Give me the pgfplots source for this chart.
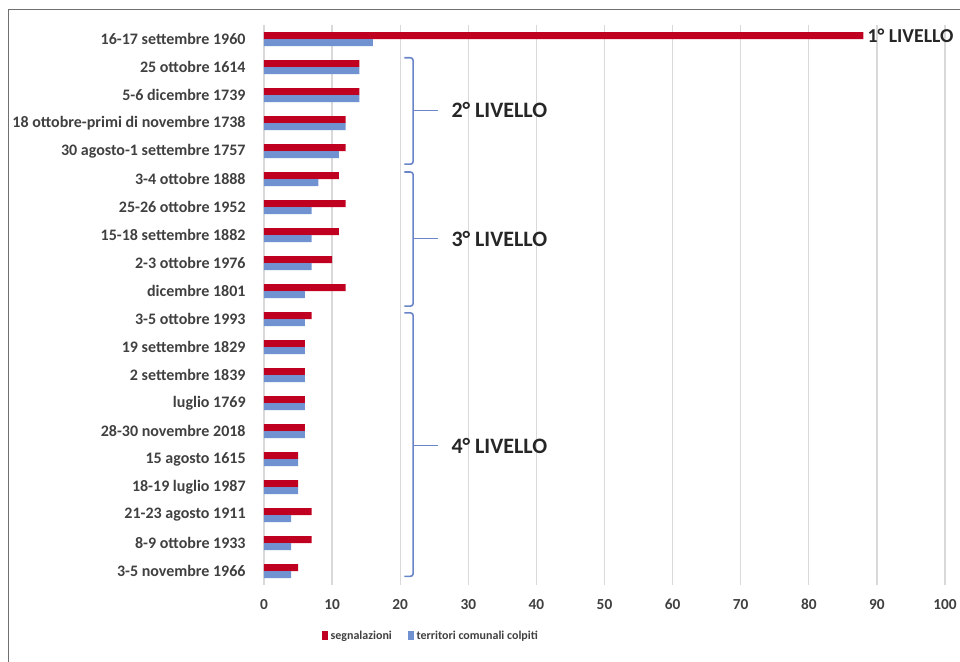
\documentclass[border=0pt]{standalone}
\usepackage{pgfplots}
\pgfplotsset{compat=1.18}
\usepackage{fontspec}
\setmainfont{Carlito}

\definecolor{barred}{HTML}{C00020}
\definecolor{barblue}{HTML}{7092D0}
\definecolor{labgray}{HTML}{404040}
\definecolor{gridgray}{HTML}{D9D9D9}
\definecolor{brk}{HTML}{6A84C8}
\definecolor{framegray}{HTML}{707070}

\begin{document}
\begin{tikzpicture}
\begin{axis}[
  at={(0pt,0pt)}, anchor=south west,
  scale only axis, width=510.75pt, height=420pt,
  xbar, bar width=0.25,
  xmin=0, xmax=100, ymin=0.5, ymax=20.5,
  y dir=reverse,
  xtick={0,10,...,100},
  ytick={1,...,20},
  yticklabels={16-17 settembre 1960, 25 ottobre 1614, 5-6 dicembre 1739,
    18 ottobre-primi di novembre 1738, 30 agosto-1 settembre 1757,
    3-4 ottobre 1888, 25-26 ottobre 1952, 15-18 settembre 1882,
    2-3 ottobre 1976, dicembre 1801, 3-5 ottobre 1993, 19 settembre 1829,
    2 settembre 1839, luglio 1769, 28-30 novembre 2018, 15 agosto 1615,
    18-19 luglio 1987, 21-23 agosto 1911, 8-9 ottobre 1933, 3-5 novembre 1966},
  /pgf/number format/assume math mode=true,
  yticklabel style={font=\fontsize{12}{14}\selectfont\bfseries, text=labgray, xshift=-6pt},
  xticklabel style={font=\fontsize{11.5}{13}\selectfont\bfseries, text=labgray, yshift=-7pt},
  xmajorgrids, grid style={gridgray, line width=0.9pt},
  axis line style={draw=none},
  major tick style={draw=none},
  clip=false,
  legend columns=2,
  legend style={draw=none, fill=none, at={(0.0788,-0.091)}, anchor=west,
    font=\fontsize{9}{11}\selectfont\bfseries, text=labgray,
    /tikz/every even column/.append style={column sep=10pt}},
  legend image code/.code={\fill[#1] (0pt,-3pt) rectangle (4.5pt,3.5pt);},
]
\addplot[fill=barred, draw=none, bar shift=-0.125] coordinates {
  (88,1) (14,2) (14,3) (12,4) (12,5) (11,6) (12,7) (11,8) (10,9) (12,10)
  (7,11) (6,12) (6,13) (6,14) (6,15) (5,16) (5,17) (7,18) (7,19) (5,20)};
\addlegendentry{segnalazioni}
\addplot[fill=barblue, draw=none, bar shift=0.125] coordinates {
  (16,1) (14,2) (14,3) (12,4) (11,5) (8,6) (7,7) (7,8) (7,9) (6,10)
  (6,11) (6,12) (6,13) (6,14) (6,15) (5,16) (5,17) (4,18) (4,19) (4,20)};
\addlegendentry{territori comunali colpiti}

% level brackets
\begin{scope}[brk, line width=1.2pt, rounded corners=2pt]
  \draw (axis cs:20.6,1.67) -- (axis cs:21.9,1.67) -- (axis cs:21.9,5.47) -- (axis cs:20.6,5.47);
  \draw (axis cs:20.6,5.75) -- (axis cs:21.9,5.75) -- (axis cs:21.9,10.54) -- (axis cs:20.6,10.54);
  \draw (axis cs:20.6,10.78) -- (axis cs:21.9,10.78) -- (axis cs:21.9,20.19) -- (axis cs:20.6,20.19);
\end{scope}
\draw[brk, line width=1.2pt] (axis cs:21.9,3.55) -- (axis cs:25.5,3.55);
\draw[brk, line width=1.2pt] (axis cs:21.9,8.13) -- (axis cs:25.5,8.13);
\draw[brk, line width=1.2pt] (axis cs:21.9,15.52) -- (axis cs:25.5,15.52);

\begin{scope}[every node/.style={anchor=west, inner sep=0pt, font=\fontsize{16.5}{18}\selectfont\bfseries, text=black!85}]
  \node at (axis cs:27.5,3.55) {2° LIVELLO};
  \node at (axis cs:27.5,8.13) {3° LIVELLO};
  \node at (axis cs:27.5,15.52) {4° LIVELLO};
  \node[font=\fontsize{14.8}{16}\selectfont\bfseries] at (axis cs:88.6,0.875) {1° LIVELLO};
\end{scope}
\end{axis}

% outer frame (top and left edges)
\draw[framegray, line width=1.1pt] (-191.6pt,-70pt) -- (-191.6pt,431.6pt) -- (540pt,431.6pt);

\pgfresetboundingbox
\useasboundingbox (-198pt,-57pt) rectangle (522pt,438.75pt);
\end{tikzpicture}
\end{document}
